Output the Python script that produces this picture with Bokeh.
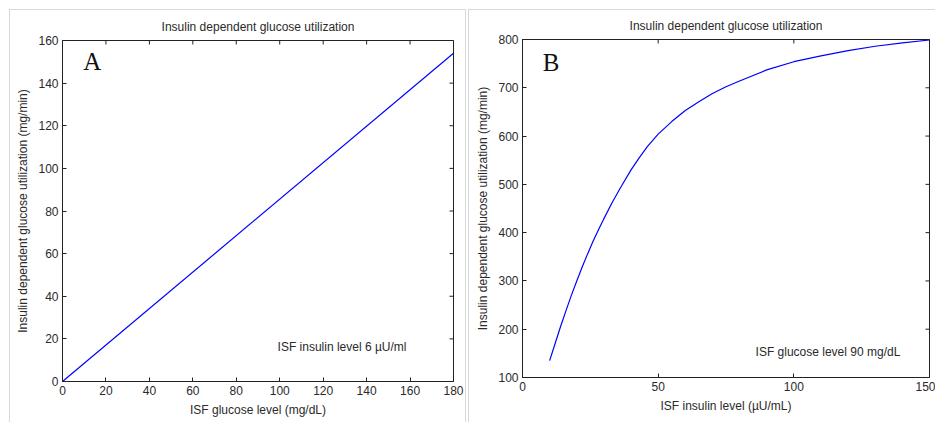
import math
from bokeh.plotting import figure
from bokeh.layouts import row
from bokeh.models import Range1d, FixedTicker, Label
from bokeh.embed import file_html
from bokeh.resources import INLINE

# Panel A data
glucose_a = [0, 180]
util_a = [0, 154]
a_xticks = [0, 20, 40, 60, 80, 100, 120, 140, 160, 180]
a_yticks = [0, 20, 40, 60, 80, 100, 120, 140, 160]

# Panel B data
insulin_b = [10, 12, 14, 16, 18, 20, 22, 24, 26, 28, 30, 33, 36, 40, 43, 46, 50, 55, 60, 65, 70, 75,
             80, 90, 100, 110, 120, 130, 140, 150]
util_b = [135, 170, 205, 238, 270, 300, 329, 356, 382, 406, 429, 462, 492, 530, 555, 578, 604, 630, 653, 671,
          688, 702, 714, 737, 754, 766, 777, 786, 793, 799]
b_xticks = [0, 50, 100, 150]
b_yticks = [100, 200, 300, 400, 500, 600, 700, 800]

TITLE = "Insulin dependent glucose utilization"
YLABEL = "Insulin dependent glucose utilization (mg/min)"
FONT = "Liberation Sans"
FS = "12px"
TXT = "#2a2a2a"
AX = "#222222"


def style_axis(ax, ticks):
    ax.ticker = FixedTicker(ticks=ticks)
    ax.major_tick_in = 4
    ax.major_tick_out = 0
    ax.minor_tick_in = 0
    ax.minor_tick_out = 0
    ax.axis_line_color = AX
    ax.major_tick_line_color = AX
    ax.major_label_text_font = FONT
    ax.major_label_text_font_size = FS
    ax.major_label_text_color = TXT
    ax.axis_label_text_font = FONT
    ax.axis_label_text_font_size = FS
    ax.axis_label_text_font_style = "normal"
    ax.axis_label_text_color = TXT
    ax.axis_label_standoff = 5
    ax.major_label_standoff = 4


def make_fig(width, xr, yr, xticks, yticks, xlabel, borders):
    left, right, top, bottom = borders
    p = figure(width=width, height=422, x_range=Range1d(*xr), y_range=Range1d(*yr),
               output_backend="svg", toolbar_location=None, frame_align=False,
               min_border_left=left, min_border_right=right,
               min_border_top=top, min_border_bottom=bottom)
    p.border_fill_alpha = 0
    p.background_fill_color = "white"
    p.title.text = TITLE
    p.title.align = "center"
    p.title.text_font = FONT
    p.title.text_font_size = FS
    p.title.text_font_style = "normal"
    p.title.text_color = TXT
    p.title.standoff = 13
    p.grid.visible = False
    p.outline_line_color = AX
    style_axis(p.xaxis[0], xticks)
    style_axis(p.yaxis[0], yticks)
    p.xaxis[0].axis_label = xlabel
    p.yaxis[0].axis_label = YLABEL
    # inward ticks on the top and right edges of the box (half of each dash is clipped by the frame)
    p.scatter(xticks, [yr[1]] * len(xticks), marker="dash", angle=math.pi / 2, size=8,
              line_color=AX, line_width=1)
    p.scatter([xr[1]] * len(yticks), yticks, marker="dash", size=8, line_color=AX, line_width=1)
    return p


pA = make_fig(467, (0, 180), (0, 160), a_xticks, a_yticks, "ISF glucose level (mg/dL)", (62, 14, 40, 41))
pA.line(glucose_a, util_a, line_color="#0000ff", line_width=1.2)
pA.add_layout(Label(x=9.5, y=150, text="A", text_font="Liberation Serif", text_font_size="25px",
                    text_baseline="middle", text_color="#111111"))
pA.add_layout(Label(x=99, y=16, text="ISF insulin level 6 µU/ml", text_font=FONT, text_font_size=FS,
                    text_baseline="middle", text_color=TXT))

pB = make_fig(468, (0, 150), (100, 800), b_xticks, b_yticks, "ISF insulin level (µU/mL)", (55, 6, 39, 45))
pB.line(insulin_b, util_b, line_color="#0000ff", line_width=1.2)
pB.add_layout(Label(x=7.5, y=752, text="B", text_font="Liberation Serif", text_font_size="25px",
                    text_baseline="middle", text_color="#111111"))
pB.add_layout(Label(x=85.9, y=152, text="ISF glucose level 90 mg/dL", text_font=FONT, text_font_size=FS,
                    text_baseline="middle", text_color=TXT))

g = "linear-gradient(#d9d9d9, #d9d9d9)"
layout = row(pA, pB, styles={
    "background-color": "white",
    "background-image": ", ".join([g] * 5),
    "background-position": "9px 9px, 468px 9px, 9px 9px, 465px 9px, 468px 9px",
    "background-size": "457px 1px, 467px 1px, 1px 413px, 1px 413px, 1px 413px",
    "background-repeat": "no-repeat",
})
open("out.html", "w").write(file_html(layout, INLINE))
